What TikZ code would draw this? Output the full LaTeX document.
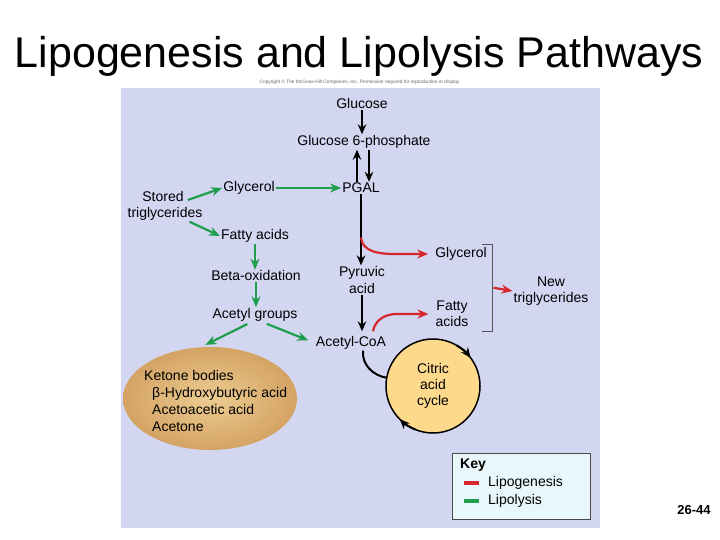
\documentclass[tikz,border=0pt]{standalone}
\usepackage{fontspec}
\setmainfont{Liberation Sans}
\usepackage{xcolor}
\usepackage{tikz}
\usetikzlibrary{arrows.meta,calc,shapes.geometric}
\definecolor{panelfill}{HTML}{D2D6F0}
\definecolor{lipored}{HTML}{D7262C}
\definecolor{lipogreen}{HTML}{1F9E4D}
\definecolor{ketonein}{HTML}{EDCC92}
\definecolor{ketoneout}{HTML}{D4A363}
\definecolor{cyclefill}{HTML}{FDD98C}
\definecolor{keyfill}{HTML}{E8F7FB}
\definecolor{keyline}{HTML}{4A4A4A}
\definecolor{bracketgray}{HTML}{555555}

\begin{document}
\begin{tikzpicture}[
  x=1pt,
  y=1pt,
  every node/.style={
    inner sep=1pt,
    font=\fontsize{14}{16.5}\selectfont
  },
  step2/.style={
    align=center
  },
  pathline/.style={
    draw=black,
    line width=2pt
  },
  patharrow/.style={
    pathline,
    -{Stealth[length=10pt,width=8.5pt]}
  },
  lipogenesis/.style={
    draw=lipored,
    line width=2.2pt,
    -{Stealth[length=11pt,width=9pt]}
  },
  lipolysis/.style={
    draw=lipogreen,
    line width=2.2pt,
    -{Stealth[length=11pt,width=9pt]}
  },
  bracketline/.style={
    draw=bracketgray,
    line width=0.9pt
  },
  swatch/.style={
    minimum width=15pt,
    minimum height=4.5pt,
    inner sep=0pt
  }
]

\path[use as bounding box] (0,0) rectangle (720,540);

% Title
\node[font=\fontsize{43}{50}\selectfont, anchor=base] (title) at (359,472)
  {Lipogenesis and Lipolysis Pathways};
\node[font=\fontsize{4.8}{6}\selectfont, text=black!60] (copyright) at (360,457.5)
  {Copyright \textcopyright{} The McGraw-Hill Companies, Inc. Permission required for reproduction or display.};

% Panel
\fill[panelfill] (121,12) rectangle (600,452);

% Carbohydrate pathway
\node (glucose) at (362,436) {Glucose};
\node (gsix)    at (364,398) {Glucose 6-phosphate};
\node (pgal)    at (361,352) {PGAL};
\node[step2] (pyruvic) at (362,260) {Pyruvic\\acid};
\node (acoa)    at (351,197) {Acetyl-CoA};

% Lipolysis side
\node (storedA) at (163,343) {Stored};
\node (storedB) at (165,326) {triglycerides};
\node (glyl)    at (249,352) {Glycerol};
\node (fattyl)  at (255,304) {Fatty acids};
\node (beta)    at (256,264) {Beta-oxidation};
\node (acetylg) at (255,225) {Acetyl groups};

% Lipogenesis side
\node (glyr) at (461,286) {Glycerol};
\node[step2] (fattyr) at (452,226) {Fatty\\acids};
\node[step2] (newtg)  at (551,249) {New\\triglycerides};

% Ketone bodies
\node[ellipse, minimum width=174pt, minimum height=103pt,
      inner color=ketonein, outer color=ketoneout] (ketone) at (210,141.5) {};
\node[anchor=west, align=left, font=\fontsize{14}{17.3}\selectfont] (ketonelist) at (143,139)
  {Ketone bodies\\\hspace*{8pt}β-Hydroxybutyric acid\\\hspace*{8pt}Acetoacetic acid\\\hspace*{8pt}Acetone};

% Citric acid cycle
\node[circle, draw=black, line width=1.5pt, fill=cyclefill, minimum size=94pt,
      align=center, font=\fontsize{14}{16}\selectfont] (cyc) at (433,154) {Citric\\acid\\cycle};

% Black connectors
\draw[patharrow] (glucose.south) -- (glucose.south |- gsix.north);
\draw[patharrow] ([xshift=-4pt]pgal.north) -- ([xshift=-4pt]pgal.north |- gsix.south);
\draw[patharrow] ([xshift=8pt]pgal.north |- gsix.south) -- ([xshift=8pt]pgal.north);
\draw[patharrow] (pgal.south) -- (pgal.south |- pyruvic.north);
\draw[patharrow, shorten >=4pt] (pyruvic.south) -- (pyruvic.south |- acoa.north);
\draw[pathline] ([xshift=12pt]acoa.south) to[out=-95,in=170] ([shift={(170:47)}]cyc.center);
\draw[patharrow] ([shift={(60:47)}]cyc.center) arc[start angle=60,end angle=37,radius=47];
\draw[patharrow] ([shift={(248:47)}]cyc.center) arc[start angle=248,end angle=225,radius=47];

% Lipolysis connectors
\draw[lipolysis] ([shift={(3,-3)}]storedA.east) -- (glyl.west);
\draw[lipolysis] ([xshift=-14pt]storedB.south east) -- (fattyl.west);
\draw[lipolysis] (glyl.east) -- (pgal.west);
\draw[lipolysis] (fattyl.south) -- (fattyl.south |- beta.north);
\draw[lipolysis] (beta.south) -- (beta.south |- acetylg.north);
\draw[lipolysis, shorten <=3pt, shorten >=5pt] ([xshift=-5pt]acetylg.south) -- (ketone.100);
\draw[lipolysis, shorten <=3pt, shorten >=7pt] ([xshift=9pt]acetylg.south) -- (acoa.west);

% Lipogenesis connectors
\coordinate (gbranch) at ($(pgal.south)!0.61!(pgal.south |- pyruvic.north)$);
\draw[lipogenesis, shorten >=6pt] (gbranch) to[out=-85,in=180] ([xshift=-40pt]glyr.west) -- (glyr.west);
\draw[lipogenesis, shorten >=6pt] ([xshift=22pt,yshift=4pt]acoa.north) to[out=80,in=180] ([xshift=-38pt]fattyr.west) -- (fattyr.west);
\coordinate (brkT) at (492,296);
\coordinate (brkB) at (492,209);
\draw[bracketline] ([xshift=-10pt]brkT) -- (brkT) -- (brkB) -- ([xshift=-10pt]brkB);
\draw[lipogenesis, shorten <=1.5pt] ($(brkT)!0.5!(brkB)$) -- (newtg.west);

% Key
\node[draw=keyline, fill=keyfill, line width=0.8pt, minimum width=138pt, minimum height=66pt] (keybox) at (521,54) {};
\node[anchor=west, font=\bfseries\fontsize{14}{16}\selectfont] (keyhead) at (459,75) {Key};
\node[swatch, fill=lipored]   (redswatch)   at (471,57) {};
\node[swatch, fill=lipogreen] (greenswatch) at (471,39) {};
\node[anchor=west] (lipotext)  at (487,57) {Lipogenesis};
\node[anchor=west] (lipoltext) at (487,39) {Lipolysis};

% Slide number
\node[font=\bfseries\fontsize{13}{15}\selectfont] (slideno) at (694,30) {26-44};

\end{tikzpicture}
\end{document}
